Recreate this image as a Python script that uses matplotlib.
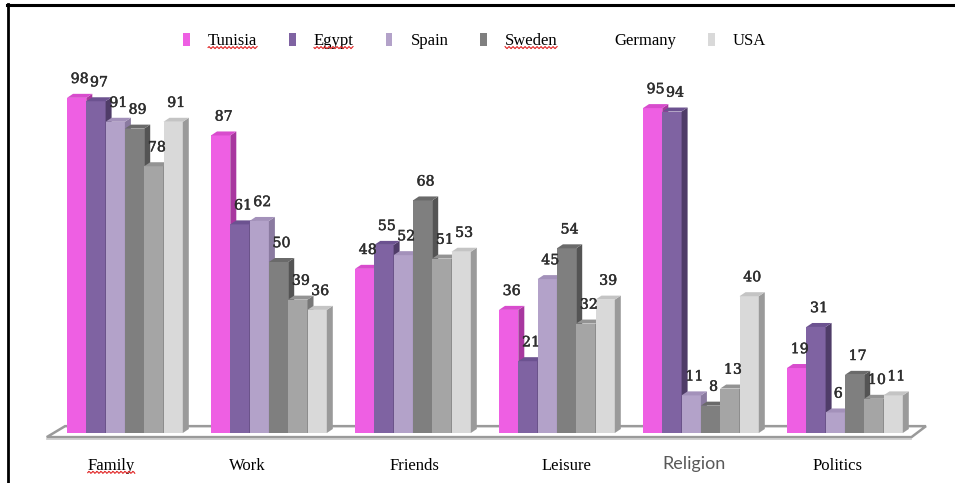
import numpy as np
import matplotlib
matplotlib.use("Agg")
import matplotlib.pyplot as plt
import matplotlib.patheffects as pe
from matplotlib.patches import Polygon, Patch, Rectangle
from matplotlib.lines import Line2D
from matplotlib.transforms import IdentityTransform

categories = ["Family", "Work", "Friends", "Leisure", "Religion", "Politics"]
countries = ["Tunisia", "Egypt", "Spain", "Sweden", "Germany", "USA"]

tunisia = [98, 87, 48, 36, 95, 19]
egypt = [97, 61, 55, 21, 94, 31]
spain = [91, 62, 52, 45, 11, 6]
sweden = [89, 50, 68, 54, 8, 17]
germany = [78, 39, 51, 32, 13, 10]
usa = [91, 36, 53, 39, 40, 11]
series = [tunisia, egypt, spain, sweden, germany, usa]

# front / side / top shades for each country
front = ["#ee5fe3", "#7f63a2", "#b3a2c9", "#7f7f7f", "#a5a5a5", "#d9d9d9"]
side = ["#a8379f", "#4f3c68", "#8a7aa0", "#545454", "#777777", "#9a9a9a"]
top = ["#d84ccd", "#6c5290", "#a391ba", "#6a6a6a", "#939393", "#c4c4c4"]

W, H = 955, 483
fig = plt.figure(figsize=(W / 100, H / 100), dpi=100)
ax = fig.add_axes([0, 0, 1, 1])

bar_px = 19.3           # one bar slot in pixels
unit_px = 3.42          # one percent in pixels
x0_px, y0_px = 67, 50   # where the first bar starts / the baseline
ax.set_xlim(-x0_px / bar_px, (W - x0_px) / bar_px)
ax.set_ylim(-y0_px / unit_px, (H - y0_px) / unit_px)
ax.axis("off")

pitch = 144 / bar_px
dx, dy = 6 / bar_px, 4 / unit_px
n = len(countries)

# floor slab
last = (len(categories) - 1) * pitch + n
fl = [(-1.05, -1.2), (last + 0.45, -1.2), (last + 1.2, 2.0), (-0.1, 2.0)]
ax.add_patch(Polygon(fl, closed=True, fc="white", ec="#9a9a9a", lw=1.8, zorder=1))
ax.plot([-1.05, last + 0.45], [-1.75, -1.75], color="#c8c8c8", lw=1.2, zorder=1)

thick = [pe.withStroke(linewidth=0.35, foreground="#2e2e2e")]
z = 2
for g in range(len(categories)):
    for j in range(n):
        x = g * pitch + j
        v = series[j][g]
        ax.bar(x, v, width=1, align="edge", color=front[j], lw=0, zorder=z)
        ax.add_patch(Polygon([(x + 1, 0), (x + 1 + dx, dy), (x + 1 + dx, v + dy), (x + 1, v)],
                             closed=True, fc=side[j], lw=0, zorder=z))
        ax.add_patch(Polygon([(x, v), (x + dx, v + dy), (x + 1 + dx, v + dy), (x + 1, v)],
                             closed=True, fc=top[j], lw=0, zorder=z))
        ax.text(x + 0.5 + dx / 2, v + dy + 2.3, str(v), ha="center", va="bottom",
                family="DejaVu Serif", fontsize=10.2, color="#2e2e2e",
                path_effects=thick, zorder=40)
        z += 1

# category names under each group
shift = [-0.7, -1.1, 0.1, 0.5, -0.35, -0.4]
cat_texts = []
for g, name in enumerate(categories):
    cx = g * pitch + n / 2 + shift[g]
    if name == "Religion":
        t = ax.text(cx, -9.0, name, ha="center", va="center", family="Lato",
                    fontsize=13, color="#595959")
    else:
        t = ax.text(cx, -9.6, name, ha="center", va="center", family="Liberation Serif",
                    fontsize=12, color="black")
    cat_texts.append(t)

# legend across the top
handles = [Patch(fc=c if c != "#a5a5a5" else "white", ec="none") for c in front]
leg = fig.legend(handles, countries, loc="center", bbox_to_anchor=(0.497, 1 - 41 / H),
                 ncol=6, frameon=False, prop={"family": "Liberation Serif", "size": 12},
                 handlelength=0.4, handleheight=0.8, handletextpad=1.1, columnspacing=1.9)

# white strip that cuts the category labels off at the bottom
fig.add_artist(Rectangle((0, 0), 1, 9 / H, transform=fig.transFigure, fc="white",
                         ec="none", zorder=50))

# border lines of the frame
fig.add_artist(Line2D([8 / W, 8 / W], [0, 1 - 4 / H], color="black", lw=2.0, zorder=60))
fig.add_artist(Line2D([7 / W, 1], [1 - 5 / H, 1 - 5 / H], color="black", lw=2.2, zorder=60))

# red spell-check squiggles
fig.canvas.draw()
rend = fig.canvas.get_renderer()
marked = [leg.get_texts()[i] for i in (0, 1, 3)] + [cat_texts[0]]
for t in marked:
    bb = t.get_window_extent(rend)
    xs = np.arange(bb.x0, bb.x1, 1.0)
    ys = bb.y0 + 1.5 + 1.0 * np.sin(xs * np.pi / 2)
    fig.add_artist(Line2D(xs, ys, transform=IdentityTransform(), color="#e02020",
                          lw=0.8, zorder=55))

fig.savefig("out.png", dpi=100)
